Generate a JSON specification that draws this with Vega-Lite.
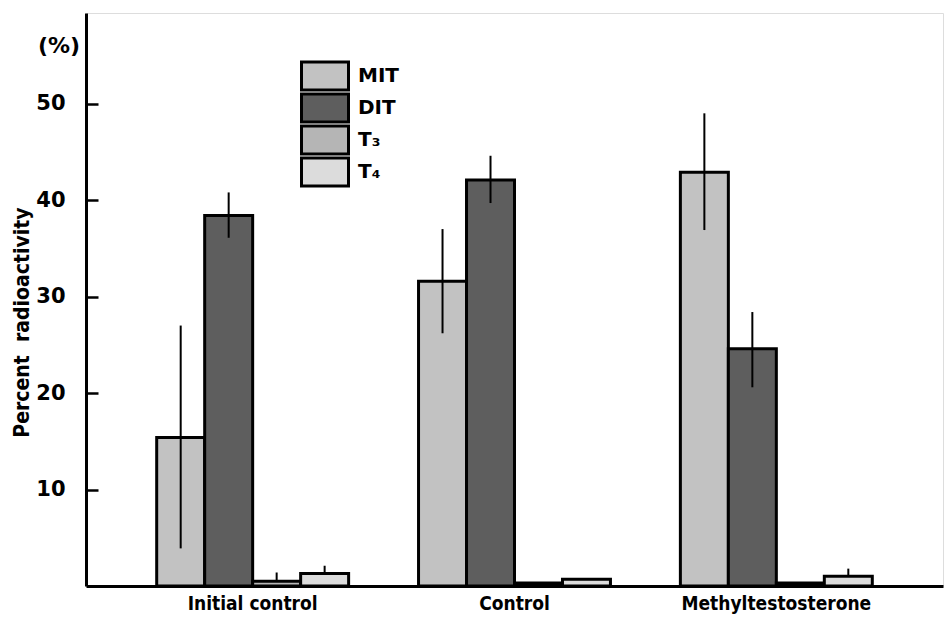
{
  "$schema": "https://vega.github.io/schema/vega-lite/v6.json",
  "autosize": {"type": "none"},
  "padding": {"left": 86, "top": 13, "right": 4, "bottom": 41},
  "width": 857,
  "height": 573,
  "background": "white",
  "title": {
    "text": "(%)",
    "orient": "top",
    "anchor": "start",
    "frame": "group",
    "font": "DejaVu Sans",
    "fontWeight": "bold",
    "fontSize": 22,
    "color": "black",
    "baseline": "middle",
    "dx": -48,
    "dy": 55,
    "offset": 0
  },
  "data": {
    "values": [
      {"group": "Initial control", "series": "MIT", "value": 15.4, "lo": 3.9, "hi": 27.0},
      {"group": "Initial control", "series": "DIT", "value": 38.4, "lo": 36.1, "hi": 40.8},
      {"group": "Initial control", "series": "T₃", "value": 0.5, "lo": 0.5, "hi": 1.4},
      {"group": "Initial control", "series": "T₄", "value": 1.3, "lo": 1.3, "hi": 2.1},
      {"group": "Control", "series": "MIT", "value": 31.6, "lo": 26.2, "hi": 37.0},
      {"group": "Control", "series": "DIT", "value": 42.1, "lo": 39.7, "hi": 44.6},
      {"group": "Control", "series": "T₃", "value": 0.3, "lo": 0.3, "hi": 0.3},
      {"group": "Control", "series": "T₄", "value": 0.7, "lo": 0.7, "hi": 0.7},
      {"group": "Methyltestosterone", "series": "MIT", "value": 42.9, "lo": 36.9, "hi": 49.0},
      {"group": "Methyltestosterone", "series": "DIT", "value": 24.6, "lo": 20.6, "hi": 28.4},
      {"group": "Methyltestosterone", "series": "T₃", "value": 0.3, "lo": 0.3, "hi": 0.3},
      {"group": "Methyltestosterone", "series": "T₄", "value": 1.0, "lo": 1.0, "hi": 1.8}
    ]
  },
  "encoding": {
    "x": {
      "field": "group",
      "type": "nominal",
      "sort": ["Initial control", "Control", "Methyltestosterone"],
      "scale": {"paddingInner": 0.267, "paddingOuter": 0.27},
      "axis": {
        "title": null,
        "labelAngle": 0,
        "labelLimit": 400,
        "ticks": false,
        "domainColor": "black",
        "domainWidth": 3,
        "labelFont": "DejaVu Sans Condensed",
        "labelFontWeight": "bold",
        "labelFontSize": 19,
        "labelColor": "black",
        "labelPadding": 8
      }
    },
    "xOffset": {
      "field": "series",
      "type": "nominal",
      "sort": ["MIT", "DIT", "T₃", "T₄"],
      "scale": {"paddingInner": 0, "paddingOuter": 0}
    }
  },
  "resolve": {"axis": {"y": "independent"}},
  "layer": [
    {
      "mark": {"type": "bar", "stroke": "black", "strokeWidth": 3, "strokeJoin": "miter"},
      "encoding": {
        "y": {
          "field": "value",
          "type": "quantitative",
          "scale": {"domain": [0, 59.4], "nice": false, "zero": true},
          "axis": {
            "title": "Percent\u00a0\u00a0radioactivity",
            "values": [10, 20, 30, 40, 50],
            "grid": false,
            "domainColor": "black",
            "domainWidth": 3,
            "ticks": true,
            "tickSize": 0,
            "tickWidth": 0,
            "labelPadding": 21,
            "labelFont": "DejaVu Sans",
            "labelFontWeight": "bold",
            "labelFontSize": 21,
            "labelColor": "black",
            "titleFont": "DejaVu Sans Condensed",
            "titleFontWeight": "bold",
            "titleFontSize": 21,
            "titleColor": "black",
            "titleAngle": -90,
            "titleX": -64,
            "titleY": 309,
            "titleAlign": "center",
            "titleBaseline": "middle"
          }
        },
        "fill": {
          "field": "series",
          "type": "nominal",
          "sort": ["MIT", "DIT", "T₃", "T₄"],
          "scale": {
            "domain": ["MIT", "DIT", "T₃", "T₄"],
            "range": ["#c2c2c2", "#5e5e5e", "#b5b5b5", "#dcdcdc"]
          },
          "legend": {
            "title": null,
            "orient": "none",
            "legendX": 214,
            "legendY": 47,
            "symbolType": "M-1,-0.6H1V0.6H-1Z",
            "symbolSize": 2209,
            "symbolStrokeColor": "black",
            "symbolStrokeWidth": 3,
            "symbolOpacity": 1,
            "clipHeight": 32,
            "rowPadding": 0,
            "labelFont": "DejaVu Sans",
            "labelFontWeight": "bold",
            "labelFontSize": 20,
            "labelColor": "black",
            "labelOffset": 8
          }
        }
      }
    },
    {
      "mark": {"type": "rule", "color": "black", "strokeWidth": 2},
      "encoding": {
        "y": {
          "field": "lo",
          "type": "quantitative",
          "axis": {
            "orient": "left",
            "offset": -12,
            "values": [10, 20, 30, 40, 50],
            "domain": false,
            "labels": false,
            "grid": false,
            "title": null,
            "ticks": true,
            "tickSize": 12,
            "tickWidth": 2.5,
            "tickColor": "black"
          }
        },
        "y2": {"field": "hi"}
      }
    }
  ]
}
